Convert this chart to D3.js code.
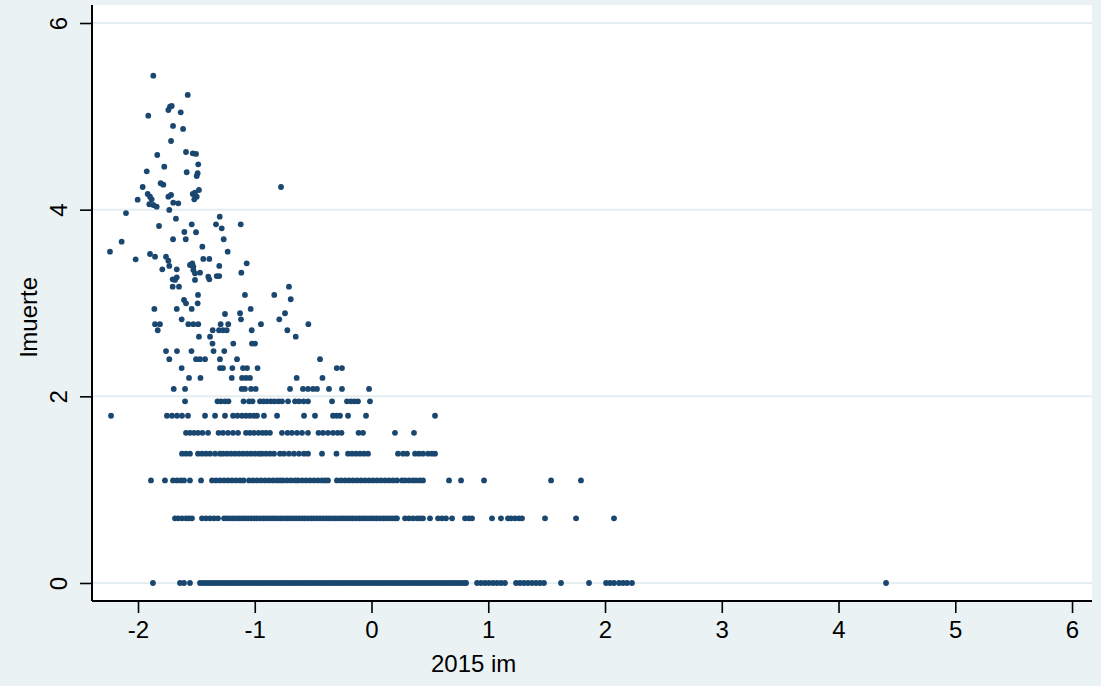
<!DOCTYPE html>
<html>
<head>
<meta charset="utf-8">
<script src="https://cdn.jsdelivr.net/npm/d3@7"></script>
<style>
  html, body { margin: 0; padding: 0; background: #eaf2f3; }
  svg { display: block; }
  text { font-family: "Liberation Sans", Arial, Helvetica, sans-serif; fill: #000; }
</style>
</head>
<body>
<svg id="chart" width="1101" height="686"></svg>
<script>
// ---- data: 2015 im (x) vs lmuerte (y) ----
const xTicks = [-2, -1, 0, 1, 2, 3, 4, 5, 6];
const yTicks = [0, 2, 4, 6];
const xTitle = "2015 im";
const yTitle = "lmuerte";

// rows where lmuerte = ln(deaths) takes a discrete value
const lm_1 = 0;
const im_1 = [-1.872, -1.640, -1.606, -1.555,
  -1.469, -1.443, -1.417, -1.392, -1.366, -1.340, -1.315, -1.289, -1.263, -1.238, -1.212, -1.186,
  -1.161, -1.135, -1.109, -1.084, -1.058, -1.032, -1.006, -0.981, -0.955, -0.929, -0.904, -0.878,
  -0.852, -0.827, -0.801, -0.775, -0.749, -0.724, -0.698, -0.672, -0.647, -0.621, -0.595, -0.570,
  -0.544, -0.518, -0.493, -0.467, -0.441, -0.415, -0.390, -0.364, -0.338, -0.313, -0.287, -0.261,
  -0.236, -0.210, -0.184, -0.159, -0.133, -0.107, -0.081, -0.056, -0.030, -0.004, 0.021, 0.047,
  0.073, 0.099, 0.124, 0.150, 0.176, 0.201, 0.227, 0.253, 0.278, 0.304, 0.330, 0.355, 0.381,
  0.407, 0.433, 0.458, 0.484, 0.510, 0.535, 0.561, 0.587, 0.612, 0.638, 0.664, 0.690, 0.715,
  0.741, 0.767, 0.792, 0.810,
  0.904, 0.938, 0.972, 1.006, 1.041, 1.075, 1.109, 1.143,
  1.238, 1.272, 1.306, 1.340, 1.375, 1.409, 1.443, 1.477,
  1.623, 1.863, 2.009, 2.043, 2.077, 2.120, 2.154, 2.189, 2.231, 4.407];

const lm_2 = 0.693;
const im_2 = [-1.683, -1.657, -1.623, -1.589, -1.563, -1.538, -1.452, -1.418, -1.383, -1.349, -1.315,
  -1.263, -1.238, -1.212, -1.186, -1.161, -1.135, -1.109, -1.084, -1.058, -1.032, -1.006, -0.981,
  -0.955, -0.929, -0.904, -0.878, -0.852, -0.827, -0.801, -0.775, -0.749, -0.724, -0.698, -0.672,
  -0.647, -0.621, -0.595, -0.570, -0.544, -0.518, -0.493, -0.467, -0.441, -0.415, -0.390, -0.364,
  -0.338, -0.313, -0.287, -0.261, -0.236, -0.210, -0.184, -0.159, -0.133, -0.107, -0.081, -0.056,
  -0.030, -0.004, 0.021, 0.047, 0.073, 0.099, 0.124, 0.150, 0.176, 0.201, 0.218,
  0.287, 0.321, 0.355, 0.390, 0.415, 0.441, 0.501, 0.570, 0.604, 0.638, 0.690,
  0.801, 0.835, 0.861, 1.032, 1.109, 1.169, 1.195, 1.229, 1.263, 1.289, 1.486, 1.752, 2.077];

const lm_3 = 1.099;
const im_3 = [-1.889, -1.769, -1.700, -1.666, -1.632, -1.606, -1.555, -1.460, -1.366, -1.332, -1.298,
  -1.263, -1.229, -1.195, -1.161, -1.126, -1.096, -1.049, -1.015, -0.981, -0.946, -0.912, -0.878,
  -0.844, -0.810, -0.784, -0.759, -0.724, -0.690, -0.655, -0.630, -0.595, -0.561, -0.527, -0.493,
  -0.458, -0.424, -0.398, -0.373, -0.296, -0.261, -0.227, -0.193, -0.159, -0.124, -0.090, -0.056,
  -0.021, 0.013, 0.047, 0.081, 0.116, 0.150, 0.184, 0.218, 0.261, 0.287, 0.321, 0.355, 0.381,
  0.415, 0.441, 0.664, 0.767, 0.964, 1.538, 1.794];

const lm_4 = 1.386;
const im_4 = [-1.623, -1.589, -1.555, -1.486, -1.452, -1.418, -1.383, -1.340, -1.298, -1.272, -1.238,
  -1.203, -1.169, -1.135, -1.101, -1.066, -1.032, -0.998, -0.964, -0.938, -0.904, -0.870, -0.835,
  -0.784, -0.750, -0.707, -0.664, -0.621, -0.578, -0.544, -0.424, -0.300, -0.201, -0.167, -0.133,
  -0.099, -0.064, -0.030, 0.227, 0.270, 0.304, 0.373, 0.407, 0.441, 0.484, 0.518, 0.544];

const lm_5 = 1.609;
const im_5 = [-1.589, -1.555, -1.520, -1.486, -1.448, -1.400, -1.310, -1.272, -1.229, -1.186, -1.143,
  -1.075, -1.041, -1.006, -0.968, -0.934, -0.904, -0.870, -0.767, -0.719, -0.681, -0.638, -0.595,
  -0.544, -0.454, -0.415, -0.373, -0.330, -0.291, -0.257, -0.111, -0.073, 0.201, 0.364];

const lm_6 = 1.792;
const im_6 = [-2.231, -1.752, -1.709, -1.666, -1.623, -1.572, -1.426, -1.340, -1.255, -1.186, -1.148,
  -1.109, -1.075, -1.041, -1.006, -0.981, -0.921, -0.809, -0.578, -0.484, -0.330, -0.300, -0.270,
  -0.201, -0.047, 0.544];

const lm_7 = 1.946;
const im_7 = [-1.597, -1.319, -1.289, -1.255, -1.225, -1.096, -1.049, -1.019, -0.955, -0.925, -0.895,
  -0.861, -0.831, -0.797, -0.767, -0.715, -0.655, -0.621, -0.582, -0.544, -0.338, -0.210, -0.176,
  -0.146, -0.116, -0.013];

const lm_8 = 2.079;
const im_8 = [-1.694, -1.597, -1.112, -1.084, -1.032, -0.992, -0.698, -0.587, -0.544, -0.501, -0.467,
  -0.364, -0.253, -0.021];

const lm_9 = 2.197;
const im_9 = [-1.563, -1.465, -1.197, -1.109, -1.075, -1.041, -0.641, -0.420];

const lm_10 = 2.303;
const im_10 = [-1.626, -1.298, -1.272, -1.192, -1.101, -1.066, -0.976, -0.298, -0.253];

const lm_11 = 2.398;
const im_11 = [-1.732, -1.503, -1.469, -1.426, -1.298, -1.152, -0.441];

const lm_12 = 2.485;
const im_12 = [-1.760, -1.666, -1.542, -1.353, -1.261];

const lm_13 = 2.565;
const im_13 = [-1.362, -1.184, -1.024, -0.998];

const lm_14 = 2.639;
const im_14 = [-1.478, -1.383, -0.649];

const lm_15 = 2.708;
const im_15 = [-1.831, -1.360, -1.306, -1.272, -1.240, -1.026, -0.721];

const lm_16 = 2.773;
const im_16 = [-1.854, -1.812, -1.569, -1.526, -1.484, -1.292, -1.227, -0.947, -0.541];

// higher values, where the rows crowd together
const upperIm = [-1.869, -1.574, -1.726, -1.740, -1.711, -1.634, -1.912, -1.700, -1.614, -1.717,
  -1.835, -1.589, -1.531, -1.503, -1.775, -1.484, -1.925, -1.583, -1.489, -1.497,
  -1.960, -1.806, -1.783, -1.917, -1.897, -1.883, -2.003, -1.903, -1.869, -1.840,
  -1.740, -1.717, -1.698, -1.655, -1.531, -1.512, -1.478, -1.497, -1.518, -0.775,
  -1.732, -2.103, -1.675, -1.300, -1.820, -1.540, -1.332, -1.283, -1.120, -1.603,
  -1.503, -2.140, -1.700, -1.591, -1.266, -1.449, -2.240, -1.232, -1.897, -1.854,
  -1.760, -2.020, -1.441, -1.389, -1.740, -1.792, -1.732, -1.668, -1.555, -1.526,
  -1.535, -1.526, -1.512, -1.512, -1.469, -1.398, -1.389, -1.326, -1.304, -1.304,
  -1.069, -1.115, -1.703, -1.668, -1.683, -1.703, -1.649, -1.486, -1.084, -0.833,
  -0.707, -0.692, -1.606, -1.589, -1.489, -1.540, -1.860, -1.668, -1.035, -1.255,
  -1.126, -0.741, -1.118, -0.790, -1.626];
const upperLm = [5.436, 5.229, 5.103, 5.068, 5.111, 5.043, 5.007, 4.897, 4.865, 4.736,
  4.586, 4.618, 4.604, 4.597, 4.461, 4.486, 4.411, 4.401, 4.390, 4.361,
  4.243, 4.283, 4.268, 4.168, 4.139, 4.111, 4.107, 4.058, 4.050, 4.032,
  4.139, 4.157, 4.075, 4.068, 4.168, 4.182, 4.211, 4.139, 4.111, 4.243,
  3.997, 3.964, 3.903, 3.925, 3.825, 3.843, 3.843, 3.800, 3.843, 3.761,
  3.758, 3.657, 3.683, 3.683, 3.683, 3.603, 3.550, 3.550, 3.525, 3.496,
  3.496, 3.468, 3.472, 3.472, 3.453, 3.361, 3.397, 3.361, 3.407, 3.389,
  3.425, 3.354, 3.318, 3.247, 3.325, 3.282, 3.254, 3.289, 3.289, 3.397,
  3.425, 3.325, 3.254, 3.275, 3.247, 3.175, 3.175, 3.086, 3.086, 3.086,
  3.175, 3.040, 3.032, 2.997, 2.997, 2.936, 2.936, 2.936, 2.936, 2.882,
  2.890, 2.890, 2.825, 2.825, 2.825];

// ---- assemble points ----
const rows = [
  [lm_1, im_1], [lm_2, im_2], [lm_3, im_3], [lm_4, im_4], [lm_5, im_5], [lm_6, im_6],
  [lm_7, im_7], [lm_8, im_8], [lm_9, im_9], [lm_10, im_10], [lm_11, im_11], [lm_12, im_12],
  [lm_13, im_13], [lm_14, im_14], [lm_15, im_15], [lm_16, im_16]
];
const points = [];
rows.forEach(([lm, ims]) => ims.forEach(im => points.push({ im, lm })));
upperIm.forEach((im, i) => points.push({ im, lm: upperLm[i] }));

// ---- layout ----
const W = 1101, H = 686;
const plot = { left: 92, right: 1092, top: 5, bottom: 601 };
const fontSize = 24;
const svg = d3.select("#chart");

const x = d3.scaleLinear().domain([-2.394, 6.171]).range([plot.left, plot.right]);
const y = d3.scaleLinear().domain([-0.193, 6.193]).range([plot.bottom, plot.top]);

svg.append("rect").attr("width", W).attr("height", H).attr("fill", "#eaf2f3");
svg.append("rect")
  .attr("x", plot.left).attr("y", plot.top)
  .attr("width", plot.right - plot.left).attr("height", plot.bottom - plot.top)
  .attr("fill", "#ffffff");

// horizontal grid lines
svg.append("g").selectAll("line").data(yTicks).join("line")
  .attr("x1", plot.left).attr("x2", plot.right)
  .attr("y1", d => y(d)).attr("y2", d => y(d))
  .attr("stroke", "#e4edf0").attr("stroke-width", 2);

// markers
svg.append("g").selectAll("circle").data(points).join("circle")
  .attr("cx", d => x(d.im)).attr("cy", d => y(d.lm))
  .attr("r", 2.9)
  .attr("fill", "#1a476f");

// x axis
const gx = svg.append("g")
  .attr("transform", `translate(0,${plot.bottom})`)
  .call(d3.axisBottom(x).tickValues(xTicks).tickSize(12).tickPadding(8).tickFormat(d => String(d)));
gx.select(".domain").attr("d", `M${plot.left},0H${plot.right}`).attr("stroke", "#000").attr("stroke-width", 2);
gx.selectAll(".tick line").attr("stroke", "#000").attr("stroke-width", 1.6);
gx.selectAll(".tick text").attr("font-size", fontSize).attr("fill", "#000")
  .attr("font-family", '"Liberation Sans", Arial, sans-serif');

// y axis
const gy = svg.append("g")
  .attr("transform", `translate(${plot.left},0)`)
  .call(d3.axisLeft(y).tickValues(yTicks).tickSize(12).tickFormat(d => String(d)));
gy.select(".domain").attr("d", `M0,${plot.top}V${plot.bottom}`).attr("stroke", "#000").attr("stroke-width", 2);
gy.selectAll(".tick line").attr("stroke", "#000").attr("stroke-width", 1.6);
gy.selectAll(".tick text")
  .attr("x", null).attr("dy", null)
  .attr("transform", "translate(-34,0) rotate(-90)")
  .attr("text-anchor", "middle")
  .attr("dominant-baseline", "central")
  .attr("font-size", fontSize).attr("fill", "#000")
  .attr("font-family", '"Liberation Sans", Arial, sans-serif');

// axis titles
svg.append("text")
  .attr("x", x(0.875)).attr("y", 672)
  .attr("text-anchor", "middle").attr("font-size", fontSize)
  .text(xTitle);
svg.append("text")
  .attr("transform", `translate(37,${y(2.85)}) rotate(-90)`)
  .attr("text-anchor", "middle").attr("font-size", fontSize)
  .text(yTitle);
</script>
</body>
</html>
